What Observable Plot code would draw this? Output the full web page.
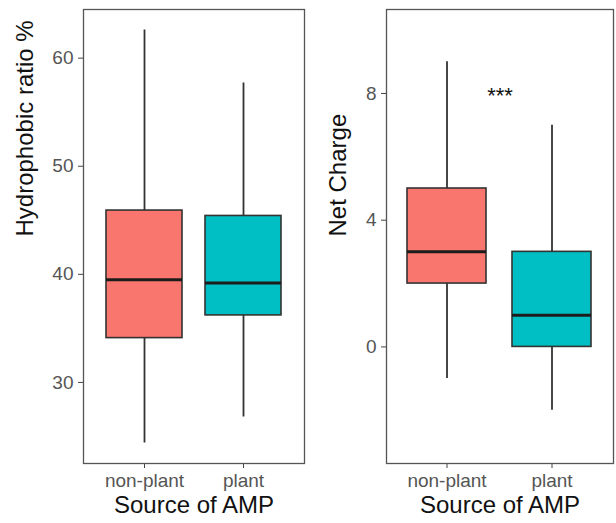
<!DOCTYPE html>
<html>
<head>
<meta charset="utf-8">
<script src="https://cdn.jsdelivr.net/npm/d3@7"></script>
<script src="https://cdn.jsdelivr.net/npm/@observablehq/plot@0.6"></script>
<style>
  html, body { margin: 0; padding: 0; background: #fff; }
  #wrap { display: flex; flex-direction: row; width: 616px; height: 523px; }
  svg { display: block; }
</style>
</head>
<body>
<div id="wrap"></div>
<script>
// ---- data ----
const categories = ["non-plant", "plant"];
const boxColors = ["#F8766D", "#00BFC4"];

// Hydrophobic ratio %
const hydroLow    = [24.4, 26.8];
const hydroQ1     = [34.1, 36.2];
const hydroMedian = [39.5, 39.2];
const hydroQ3     = [45.9, 45.4];
const hydroHigh   = [62.6, 57.7];
const hydroTicks  = [30, 40, 50, 60];

// Net charge
const chargeLow    = [-1, -2];
const chargeQ1     = [2, 0];
const chargeMedian = [3, 1];
const chargeQ3     = [5, 3];
const chargeHigh   = [9, 7];
const chargeTicks  = [0, 4, 8];

const signifLabel = ["***"];
const signifY = 8;

const xTitle = "Source of AMP";
const hydroTitle = "Hydrophobic ratio %";
const chargeTitle = "Net Charge";

const FONT = "'Liberation Sans', Arial, Helvetica, sans-serif";

function rows(low, q1, med, q3, high) {
  return categories.map((c, i) => ({source: c, low: low[i], q1: q1[i], median: med[i], q3: q3[i], high: high[i]}));
}

function panel({data, width, marginLeft, marginRight, yDomain, yTicks, yTitle, yTitleDx, padIn, padOut, extra = []}) {
  return Plot.plot({
    width,
    height: 523,
    marginLeft,
    marginRight,
    marginTop: 9,
    marginBottom: 60,
    style: {fontFamily: FONT, background: "#fff", overflow: "visible"},
    x: {type: "band", domain: categories, paddingInner: padIn, paddingOuter: padOut},
    y: {domain: yDomain},
    color: {domain: categories, range: boxColors},
    marks: [
      Plot.axisY({ticks: yTicks, tickSize: 5, tickPadding: 5, fontSize: 19, label: null, stroke: "#444", fill: "#555"}),
      Plot.axisX({tickSize: 5, tickPadding: 5, fontSize: 19, label: null, stroke: "#444", fill: "#555"}),
      Plot.ruleX(data, {x: "source", y1: "low", y2: "high", stroke: "#333", strokeWidth: 1.8}),
      Plot.barY(data, {x: "source", y1: "q1", y2: "q3", fill: "source", stroke: "#333", strokeWidth: 1.6}),
      Plot.tickY(data, {x: "source", y: "median", stroke: "#1c1c1c", strokeWidth: 3}),
      Plot.frame({stroke: "#555", strokeWidth: 1.3}),
      Plot.text([yTitle], {text: d => d, frameAnchor: "left", rotate: -90, dx: yTitleDx, fontSize: 24, fill: "#111"}),
      Plot.text([xTitle], {text: d => d, frameAnchor: "bottom", dy: 49, fontSize: 24, fill: "#111"}),
      ...extra
    ]
  });
}

const left = panel({
  data: rows(hydroLow, hydroQ1, hydroMedian, hydroQ3, hydroHigh),
  width: 310, marginLeft: 83, marginRight: 6,
  yDomain: [22.5, 64.5], yTicks: hydroTicks,
  yTitle: hydroTitle, yTitleDx: -58,
  padIn: 0.23, padOut: 0.225
});

const right = panel({
  data: rows(chargeLow, chargeQ1, chargeMedian, chargeQ3, chargeHigh),
  width: 306, marginLeft: 76, marginRight: 3,
  yDomain: [-3.68, 10.65], yTicks: chargeTicks,
  yTitle: chargeTitle, yTitleDx: -48,
  padIn: 0.245, padOut: 0.2,
  extra: [
    Plot.text(signifLabel, {text: d => d, frameAnchor: "middle", y: () => signifY, dy: 2, fontSize: 22, fill: "#111"})
  ]
});

document.getElementById("wrap").append(left, right);
</script>
</body>
</html>
